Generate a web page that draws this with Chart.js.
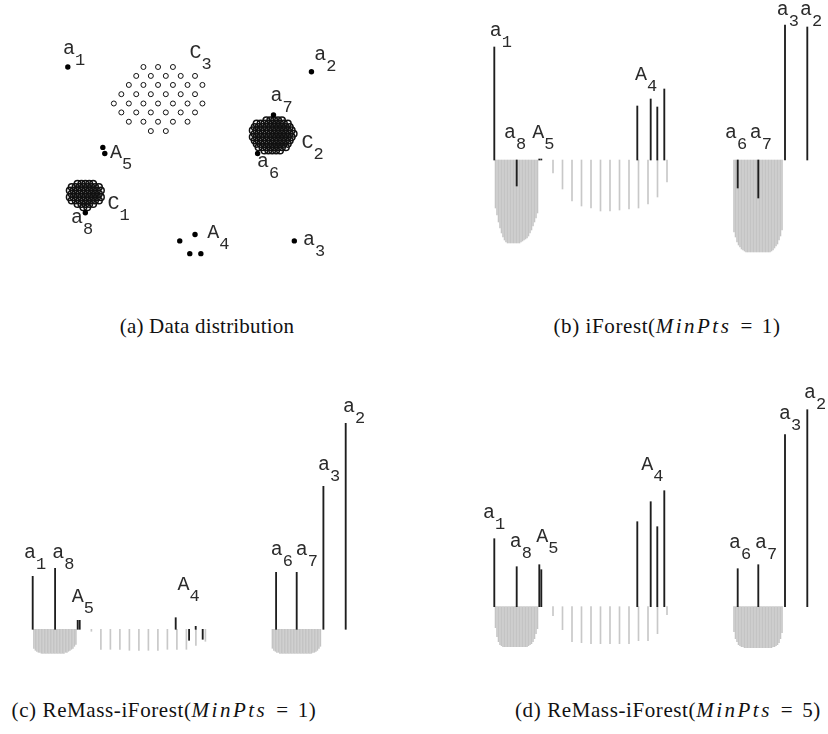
<!DOCTYPE html>
<html>
<head>
<meta charset="utf-8">
<script src="https://cdn.jsdelivr.net/npm/chart.js@4.4.1/dist/chart.umd.min.js"></script>
<style>
  body { margin: 0; background: #fff; }
  #wrap { position: relative; width: 828px; height: 734px; overflow: hidden; }
  canvas { position: absolute; }
  .cap { position: absolute; font-family: "Liberation Serif", serif; font-size: 21px; color: #111; text-align: center; white-space: nowrap; letter-spacing: 0.2px; }
  .cap.m { letter-spacing: 0.6px; }
  .cap i { letter-spacing: 2.5px; }
  .eq { margin: 0 9px; }
</style>
</head>
<body>
<div id="wrap">
  <canvas id="pa" width="414" height="280" style="left:0;top:0"></canvas>
  <canvas id="pb" width="348" height="270" style="left:480px;top:0"></canvas>
  <canvas id="pc" width="348" height="285" style="left:18px;top:395px"></canvas>
  <canvas id="pd" width="348" height="300" style="left:480px;top:380px"></canvas>
  <div class="cap" style="left:57px;top:314px;width:300px">(a) Data distribution</div>
  <div class="cap m" style="left:517px;top:314px;width:300px">(b) iForest(<i>MinPts</i><span class="eq">=</span>1)</div>
  <div class="cap m" style="left:-1px;top:698px;width:330px">(c) ReMass-iForest(<i>MinPts</i><span class="eq">=</span>1)</div>
  <div class="cap m" style="left:503px;top:698px;width:330px">(d) ReMass-iForest(<i>MinPts</i><span class="eq">=</span>5)</div>
</div>
<script>
// ---- panel (a): 2-D data ----
const anomX = [64, 314.3, 296.7, 275.3, 259, 82, 100, 102, 179, 194.7, 189.3, 200.7];
const anomY = [64, 69, 245, 114, 154, 215.7, 147.7, 154, 245, 238.3, 258.3, 258.3];

const c3Rows = [
  [64, [141.7, 156.7, 172]],
  [73.3, [134.3, 149.3, 164.7, 180, 194.7]],
  [82.7, [126.7, 141.7, 156.7, 172, 187, 202.3]],
  [92.3, [119, 134.3, 149.3, 164.7, 180, 194.7]],
  [102, [111.3, 126.7, 141.7, 156.7, 172, 187, 202.3]],
  [111.3, [119, 134.3, 149.3, 164.7, 180, 194.7]],
  [121, [126.7, 141.7, 156.7, 172, 187]],
  [130.7, [149.3, 164.7]]
];
const c1Rows = [
  [185.5, [74, 78, 82, 86, 90]],
  [189, [68, 72, 76, 80, 84, 88, 92, 96]],
  [192.5, [66, 70, 74, 78, 82, 86, 90, 94, 98]],
  [196, [68, 72, 76, 80, 84, 88, 92, 96]],
  [199.5, [66, 70, 74, 78, 82, 86, 90, 94, 98]],
  [203, [68, 72, 76, 80, 84, 88, 92, 96]],
  [206.5, [74, 78, 82, 86, 90]],
  [210, [80, 84]]
];
const c2Rows = [
  [119.5, [268, 272, 276, 280, 284]],
  [123, [258, 262, 266, 270, 274, 278, 282, 286, 290]],
  [126.5, [256, 260, 264, 268, 272, 276, 280, 284, 288, 292]],
  [130, [254, 258, 262, 266, 270, 274, 278, 282, 286, 290, 294]],
  [133.5, [256, 260, 264, 268, 272, 276, 280, 284, 288, 292, 296]],
  [137, [254, 258, 262, 266, 270, 274, 278, 282, 286, 290, 294]],
  [140.5, [256, 260, 264, 268, 272, 276, 280, 284, 288, 292]],
  [144, [258, 262, 266, 270, 274, 278, 282, 286, 290]],
  [147.5, [260, 264, 268, 272, 276, 280, 284, 288]],
  [151, [266, 270, 274, 278, 282]]
];

// ---- panels (b)-(d): points along the ordering ----
const c1Pos = [15.5, 17, 18.5, 20, 21.5, 23, 24.5, 26, 27.5, 29, 30.5, 32, 33.5, 35, 36.5, 38, 39.5, 41, 42.5, 44, 45.5, 47, 48.5, 50, 51.5, 53, 54.5, 56, 57.5];
const c3Pos = [73, 82.5, 92, 101.5, 111, 120.5, 130, 139.5, 149, 158.5, 168, 177.5, 187];
const c2Pos = [254, 255.5, 257, 258.5, 260, 261.5, 263, 264.5, 266, 267.5, 269, 270.5, 272, 273.5, 275, 276.5, 278, 279.5, 281, 282.5, 284, 285.5, 287, 288.5, 290, 291.5, 293, 294.5, 296, 297.5, 299, 300.5, 302];
const outPos = [14.3, 36.7, 59.3, 61.3, 157.3, 170.7, 177.3, 184.3, 257.7, 278.3, 305, 327.3];

// iForest (MinPts = 1)
const ifC1 = [-48, -55, -62, -68, -73, -77, -80, -82, -83, -83, -83, -83, -83, -83, -83, -83, -83, -82, -81, -80, -79, -78, -76, -73, -70, -66, -62, -58, -53];
const ifC3 = [-13, -29, -41, -46, -48, -51, -51, -50, -49, -48, -44, -37, -22];
const ifC2 = [-72, -77, -82, -85, -87, -89, -90, -91, -92, -92, -92, -92, -92, -92, -92, -92, -92, -92, -92, -92, -92, -92, -92, -92, -92, -91, -90, -88, -86, -84, -80, -76, -70];
const ifOut = [113, -26, 1, 1, 54, 61, 53, 71, -28, -38, 135, 133];

// ReMass-iForest (MinPts = 1)
const rm1C1 = [-19, -21, -22, -23, -23, -24, -24, -24, -24, -24, -24, -24, -24, -24, -24, -24, -24, -24, -24, -24, -24, -23, -23, -22, -21, -20, -19, -17, -15];
const rm1C3 = [-2, -20, -20, -20, -21, -21, -21, -21, -20, -20, -20, -16, -12];
const rm1C2 = [-19, -21, -22, -23, -23, -24, -24, -24, -24, -24, -24, -24, -24, -24, -24, -24, -24, -24, -24, -24, -24, -24, -24, -24, -24, -24, -24, -23, -23, -22, -21, -19, -17];
const rm1Out = [53, 61, 9, 9, 11.6, -11, 3, -10, 57, 57, 143, 206];

// ReMass-iForest (MinPts = 5)
const rm5C1 = [-21, -30, -35, -38, -39, -40, -40, -40, -40, -40, -40, -40, -40, -40, -40, -40, -40, -40, -40, -40, -40, -40, -39, -38, -37, -35, -32, -27, -22];
const rm5C3 = [-9, -23, -35, -36, -37, -37, -37, -37, -37, -34, -34, -27, -8];
const rm5C2 = [-25, -32, -35, -38, -39, -40, -40, -41, -41, -41, -41, -41, -41, -41, -41, -41, -41, -41, -41, -41, -41, -41, -41, -41, -41, -41, -40, -40, -39, -38, -36, -32, -26];
const rm5Out = [68, 40, 42, 37, 85, 105, 80, 116, 38, 42, 172, 197];

// label anchors: [main, subscript, x, y]
const labelsA = [['a', '1', 60, 50], ['C', '3', 190, 55], ['a', '2', 318.3, 56.7], ['a', '7', 273.3, 99], ['C', '2', 305, 148.3], ['a', '6', 259.3, 168.3], ['A', '5', 108.3, 158.3], ['C', '1', 105.7, 212.3], ['a', '8', 68.3, 226], ['A', '4', 208.3, 242.3], ['a', '3', 306.7, 249.3]];
const labelsB = [['a', '1', 10.7, 124], ['a', '8', 25, 21.7], ['A', '5', 53.3, 21.7], ['A', '4', 156, 80], ['a', '6', 246, 22], ['a', '7', 270.7, 22], ['a', '3', 297.7, 145], ['a', '2', 321, 145]];
const labelsC = [['a', '1', 6.6, 71], ['a', '8', 34.9, 71], ['A', '5', 54.3, 27.6], ['A', '4', 160, 39.3], ['a', '6', 253.3, 74.3], ['a', '7', 278.3, 74.3], ['a', '3', 300.6, 159.3], ['a', '2', 325.6, 217.6]];
const labelsD = [['a', '1', 4, 88.4], ['a', '8', 30.7, 60], ['A', '5', 57.3, 64.4], ['A', '4', 162.3, 136.7], ['a', '6', 250, 58.4], ['a', '7', 276, 58.4], ['a', '3', 300, 187.4], ['a', '2', 325, 208.4]];

const glyphLabels = {
  id: 'glyphLabels',
  afterDatasetsDraw(chart, args, opts) {
    const { ctx, scales: { x, y } } = chart;
    ctx.save();
    ctx.fillStyle = '#2b2b2b';
    ctx.textBaseline = 'alphabetic';
    (opts.items || []).forEach(([main, sub, lx, ly]) => {
      const px = x.getPixelForValue(lx) - 1;
      const py = y.getPixelForValue(ly);
      ctx.font = '20px "Liberation Mono"';
      ctx.fillText(main, px, py);
      const w = ctx.measureText(main).width;
      ctx.font = '17px "Liberation Mono"';
      ctx.fillText(sub, px + w, py + 11);
    });
    ctx.restore();
  }
};

const rowsToPts = rows => rows.flatMap(([yy, xs]) => xs.map(xx => ({ x: xx, y: yy })));
const ring = { backgroundColor: '#fff', borderColor: '#111', borderWidth: 1, pointRadius: 2.5 };
const blob = { backgroundColor: 'rgba(0,0,0,0)', borderColor: '#111', borderWidth: 1.5, pointRadius: 3.3 };

new Chart(document.getElementById('pa'), {
  type: 'scatter',
  data: {
    datasets: [
      { data: anomX.map((v, i) => ({ x: v, y: anomY[i] })), backgroundColor: '#000', borderWidth: 0, pointRadius: 2.7 },
      Object.assign({ data: rowsToPts(c3Rows) }, ring),
      Object.assign({ data: rowsToPts(c1Rows) }, blob),
      Object.assign({ data: rowsToPts(c2Rows) }, blob)
    ]
  },
  options: {
    responsive: false,
    animation: false,
    events: [],
    layout: { padding: 0 },
    scales: {
      x: { type: 'linear', min: 0, max: 414, display: false },
      y: { type: 'linear', min: 0, max: 280, reverse: true, display: false }
    },
    plugins: { legend: { display: false }, tooltip: { enabled: false }, glyphLabels: { items: labelsA } }
  },
  plugins: [glyphLabels]
});

function barSet(pos, vals, color, thick) {
  return {
    data: pos.map((p, i) => ({ x: p, y: vals[i] })),
    backgroundColor: color,
    borderWidth: 0,
    barThickness: thick,
    grouped: false
  };
}

function scoreChart(id, c1, c3, c2, out, xMin, yMin, yMax, labels) {
  const cv = document.getElementById(id);
  new Chart(cv, {
    type: 'bar',
    data: {
      datasets: [
        barSet(outPos, out, '#1e1e1e', 1.2),
        barSet(c1Pos, c1, '#c4c4c4', 0.9),
        barSet(c3Pos, c3, '#c8c8c8', 1),
        barSet(c2Pos, c2, '#c4c4c4', 0.9)
      ]
    },
    options: {
      responsive: false,
      animation: false,
      events: [],
      layout: { padding: 0 },
      scales: {
        x: { type: 'linear', min: xMin, max: xMin + cv.width, offset: false, display: false },
        y: { type: 'linear', min: yMin, max: yMax, display: false }
      },
      plugins: { legend: { display: false }, tooltip: { enabled: false }, glyphLabels: { items: labels } }
    },
    plugins: [glyphLabels]
  });
}

scoreChart('pb', ifC1, ifC3, ifC2, ifOut, 0, -110, 160, labelsB);
scoreChart('pc', rm1C1, rm1C3, rm1C2, rm1Out, -0.4, -50.7, 234.3, labelsC);
scoreChart('pd', rm5C1, rm5C3, rm5C2, rm5Out, 0, -73.3, 226.7, labelsD);
</script>
</body>
</html>
